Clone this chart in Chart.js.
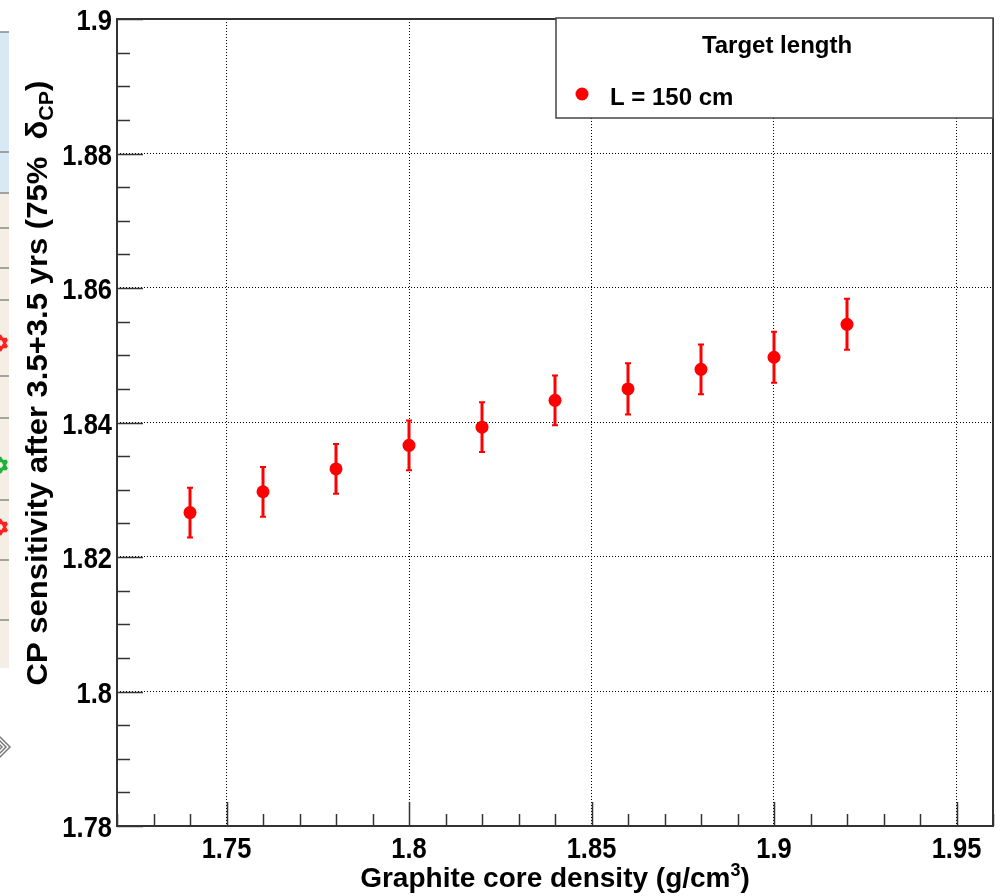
<!DOCTYPE html>
<html>
<head>
<meta charset="utf-8">
<script src="https://cdn.jsdelivr.net/npm/chart.js@4.4.1/dist/chart.umd.min.js"></script>
<style>
  html, body { margin: 0; padding: 0; background: #fff; }
  canvas { display: block; }
</style>
</head>
<body>
<canvas id="c" width="1003" height="896"></canvas>
<script>
// data
const density = [1.74, 1.76, 1.78, 1.80, 1.82, 1.84, 1.86, 1.88, 1.90, 1.92];
const sensitivity = [1.8266, 1.8297, 1.8331, 1.8366, 1.8393, 1.8433, 1.8450, 1.8479, 1.8497, 1.8546];
const sensErr = [0.0037, 0.0037, 0.0037, 0.0037, 0.0037, 0.0037, 0.0038, 0.0037, 0.0038, 0.0038];

const xTickValues = [1.75, 1.8, 1.85, 1.9, 1.95];
const xTickLabels = ["1.75", "1.8", "1.85", "1.9", "1.95"];
const yTickValues = [1.78, 1.8, 1.82, 1.84, 1.86, 1.88, 1.9];
const yTickLabels = ["1.78", "1.8", "1.82", "1.84", "1.86", "1.88", "1.9"];

const seriesLabel = "L = 150 cm";
const legendTitle = "Target length";
const RED = "#ff0000";
const FONT = "'Liberation Sans', Arial, Helvetica, sans-serif";

// draw a run of text pieces (for sub/superscripts), centred on cx
function drawParts(ctx, parts, cx, y, stretch) {
  let total = 0;
  parts.forEach(p => {
    ctx.font = `bold ${p.size}px ${FONT}`;
    p.w = ctx.measureText(p.text).width;
    total += p.w;
  });
  let x = cx - total * stretch / 2;
  parts.forEach(p => {
    ctx.font = `bold ${p.size}px ${FONT}`;
    ctx.save();
    ctx.translate(x, y + (p.dy || 0));
    ctx.scale(stretch, 1);
    ctx.fillText(p.text, 0, 0);
    ctx.restore();
    x += p.w * stretch;
  });
}

function squeezed(ctx, text, x, y, sx, align) {
  ctx.save();
  ctx.translate(x, y);
  ctx.scale(sx, 1);
  ctx.textAlign = align;
  ctx.fillText(text, 0, 0);
  ctx.restore();
}

// bit of the neighbouring figure that was cut into the left edge
const leftStrip = {
  id: "leftStrip",
  beforeDraw(chart) {
    const ctx = chart.ctx;
    ctx.save();
    ctx.fillStyle = "#fff";
    ctx.fillRect(0, 0, chart.width, chart.height);
    ctx.fillStyle = "#d8e8f4";
    ctx.fillRect(0, 32, 9, 161);
    ctx.fillStyle = "#f5eee4";
    ctx.fillRect(0, 193, 9, 475);
    ctx.strokeStyle = "#8a8a8a";
    ctx.lineWidth = 1.5;
    [32, 152, 193, 228, 268, 300, 376, 418, 500, 560, 620].forEach(y => {
      ctx.beginPath(); ctx.moveTo(0, y); ctx.lineTo(9, y); ctx.stroke();
    });
    const star = (cy, col) => {
      ctx.strokeStyle = col; ctx.lineWidth = 2.5;
      ctx.beginPath();
      for (let k = 0; k < 3; k++) {
        const a = -Math.PI / 2 + k * 2 * Math.PI / 3;
        const b = Math.PI / 2 + k * 2 * Math.PI / 3;
        ctx.moveTo(0 + 8 * Math.cos(a), cy + 8 * Math.sin(a));
        ctx.lineTo(0 + 8 * Math.cos(a + 2 * Math.PI / 3), cy + 8 * Math.sin(a + 2 * Math.PI / 3));
        ctx.moveTo(0 + 8 * Math.cos(b), cy + 8 * Math.sin(b));
        ctx.lineTo(0 + 8 * Math.cos(b + 2 * Math.PI / 3), cy + 8 * Math.sin(b + 2 * Math.PI / 3));
      }
      ctx.stroke();
    };
    star(343, "#ff2020");
    star(465, "#20b040");
    star(527, "#ff2020");
    ctx.strokeStyle = "#777";
    ctx.lineWidth = 1.5;
    [14, 10, 6].forEach(r => {
      ctx.beginPath();
      ctx.moveTo(-4, 747 - r); ctx.lineTo(-4 + r, 747); ctx.lineTo(-4, 747 + r);
      ctx.stroke();
    });
    ctx.restore();
  }
};

const errorBars = {
  id: "errorBars",
  beforeDatasetsDraw(chart) {
    const { ctx, scales: { x, y } } = chart;
    ctx.save();
    ctx.strokeStyle = RED;
    density.forEach((d, i) => {
      const px = x.getPixelForValue(d);
      const top = y.getPixelForValue(sensitivity[i] + sensErr[i]);
      const bot = y.getPixelForValue(sensitivity[i] - sensErr[i]);
      ctx.lineWidth = 3;
      ctx.beginPath(); ctx.moveTo(px, top); ctx.lineTo(px, bot); ctx.stroke();
      ctx.lineWidth = 2;
      ctx.beginPath();
      ctx.moveTo(px - 3, top); ctx.lineTo(px + 3, top);
      ctx.moveTo(px - 3, bot); ctx.lineTo(px + 3, bot);
      ctx.stroke();
    });
    ctx.restore();
  }
};

const frameAndText = {
  id: "frameAndText",
  afterDraw(chart) {
    const { ctx, chartArea: a, scales: { x, y } } = chart;
    ctx.save();
    ctx.strokeStyle = "#333";
    ctx.fillStyle = "#000";

    // ticks, inside the frame
    ctx.lineWidth = 1.5;
    ctx.beginPath();
    for (let v = 1.72; v <= 1.96 + 1e-9; v += 0.01) {
      const px = Math.round(x.getPixelForValue(v)) + 0.5;
      const major = xTickValues.some(t => Math.abs(t - v) < 1e-6);
      ctx.moveTo(px, a.bottom); ctx.lineTo(px, a.bottom - (major ? 24 : 12));
    }
    for (let v = 1.78; v <= 1.9 + 1e-9; v += 0.005) {
      const py = Math.round(y.getPixelForValue(v)) + 0.5;
      const major = yTickValues.some(t => Math.abs(t - v) < 1e-6);
      ctx.moveTo(a.left, py); ctx.lineTo(a.left + (major ? 26 : 13), py);
    }
    ctx.stroke();

    ctx.lineWidth = 2;
    ctx.strokeRect(a.left, a.top, a.right - a.left, a.bottom - a.top);

    // tick labels
    ctx.font = `bold 30px ${FONT}`;
    ctx.textBaseline = "alphabetic";
    xTickValues.forEach((v, i) => {
      squeezed(ctx, xTickLabels[i], x.getPixelForValue(v), 858, 0.85, "center");
    });
    yTickValues.forEach((v, i) => {
      squeezed(ctx, yTickLabels[i], 112, y.getPixelForValue(v) + 11, 0.85, "right");
    });

    // axis titles
    ctx.textAlign = "left";
    drawParts(ctx, [
      { text: "Graphite core density (g/cm", size: 28 },
      { text: "3", size: 18, dy: -11 },
      { text: ")", size: 28 }
    ], (a.left + a.right) / 2, 887, 1);

    ctx.save();
    ctx.translate(47, 383);
    ctx.rotate(-Math.PI / 2);
    drawParts(ctx, [
      { text: "CP sensitivity after 3.5+3.5 yrs (75%  \u03b4", size: 29 },
      { text: "CP", size: 20, dy: 6 },
      { text: ")", size: 29 }
    ], 0, 0, 1.07);
    ctx.restore();

    // legend box
    const bx = 556, by = 18, bw = a.right - 556, bh = 100;
    ctx.fillStyle = "#fff";
    ctx.fillRect(bx, by, bw, bh);
    ctx.strokeStyle = "#444";
    ctx.lineWidth = 1.5;
    ctx.strokeRect(bx, by, bw, bh);
    ctx.fillStyle = "#000";
    ctx.font = `bold 24px ${FONT}`;
    ctx.textAlign = "center";
    ctx.fillText(legendTitle, 777, 53);
    const ds = chart.data.datasets[0];
    ctx.fillStyle = ds.backgroundColor;
    ctx.beginPath(); ctx.arc(582, 94, 6.5, 0, Math.PI * 2); ctx.fill();
    ctx.fillStyle = "#000";
    ctx.textAlign = "left";
    ctx.fillText(ds.label, 610, 105);
    ctx.restore();
  }
};

new Chart(document.getElementById("c"), {
  type: "scatter",
  data: {
    datasets: [{
      label: seriesLabel,
      data: density.map((d, i) => ({ x: d, y: sensitivity[i] })),
      backgroundColor: RED,
      borderColor: RED,
      borderWidth: 0,
      pointRadius: 6.5,
      pointHoverRadius: 6.5
    }]
  },
  options: {
    responsive: false,
    animation: false,
    devicePixelRatio: 1,
    layout: { padding: { top: 19, right: 10, left: 0, bottom: 0 } },
    plugins: { legend: { display: false }, tooltip: { enabled: false } },
    scales: {
      x: {
        type: "linear",
        min: 1.72,
        max: 1.96,
        afterBuildTicks: s => { s.ticks = xTickValues.map(v => ({ value: v })); },
        afterFit: s => { s.height = 70; },
        ticks: { display: false },
        grid: { color: "#000", lineWidth: 1, drawTicks: false },
        border: { display: false, dash: [1, 2] }
      },
      y: {
        type: "linear",
        min: 1.78,
        max: 1.9,
        afterBuildTicks: s => { s.ticks = yTickValues.map(v => ({ value: v })); },
        afterFit: s => { s.width = 117; },
        ticks: { display: false },
        grid: { color: "#000", lineWidth: 1, drawTicks: false },
        border: { display: false, dash: [1, 2] }
      }
    }
  },
  plugins: [leftStrip, errorBars, frameAndText]
});
</script>
</body>
</html>
